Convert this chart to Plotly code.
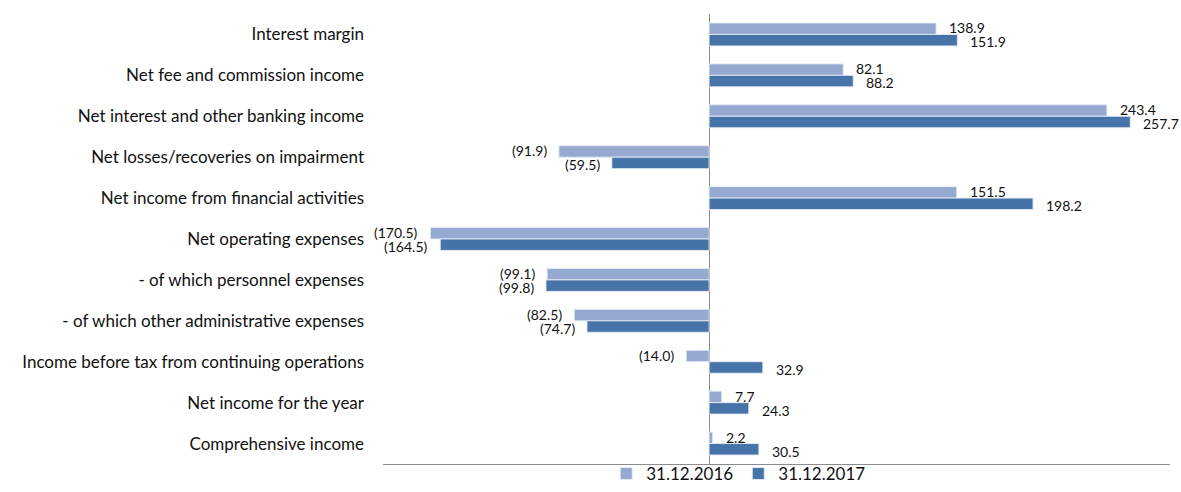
import plotly.graph_objects as go

categories = [
    "Interest margin",
    "Net fee and commission income",
    "Net interest and other banking income",
    "Net losses/recoveries on impairment",
    "Net income from financial activities",
    "Net operating expenses",
    "- of which personnel expenses",
    "- of which other administrative expenses",
    "Income before tax from continuing operations",
    "Net income for the year",
    "Comprehensive income",
]
values_2016 = [138.9, 82.1, 243.4, -91.9, 151.5, -170.5, -99.1, -82.5, -14.0, 7.7, 2.2]
values_2017 = [151.9, 88.2, 257.7, -59.5, 198.2, -164.5, -99.8, -74.7, 32.9, 24.3, 30.5]
series_names = ["31.12.2016", "31.12.2017"]

LIGHT = "#95A9D1"
DARK = "#4673A8"
FONT = "Lato"


def fmt(v):
    return f"({abs(v):.1f})" if v < 0 else f"{v:.1f}"


fig = go.Figure()
for name, vals, col in [(series_names[0], values_2016, LIGHT), (series_names[1], values_2017, DARK)]:
    fig.add_trace(go.Bar(
        y=categories, x=vals, name=name, orientation="h",
        marker=dict(color=col, line=dict(color="rgba(230,236,246,0.9)", width=1)),
        hoverinfo="x+y",
    ))

annotations = []
for vals, ys in [(values_2016, 6.5), (values_2017, -7.5)]:
    for c, v in zip(categories, vals):
        annotations.append(dict(
            x=v, y=c, xref="x", yref="y", text=fmt(v), showarrow=False,
            xanchor="left" if v >= 0 else "right",
            xshift=11 if v >= 0 else -10, yshift=ys,
            font=dict(family=FONT, size=14, color="#111"),
        ))

fig.update_layout(
    width=1181, height=492,
    margin=dict(l=383, r=11, t=14, b=28, autoexpand=False),
    paper_bgcolor="white", plot_bgcolor="white",
    barmode="group", bargap=0.44, bargroupgap=0,
    font=dict(family=FONT, size=17, color="#111"),
    showlegend=True,
    legend=dict(orientation="h", x=0.452, xanchor="center", xref="paper",
                y=0.0, yanchor="bottom", yref="container",
                bgcolor="rgba(0,0,0,0)",
                font=dict(family=FONT, size=17, color="#111"), traceorder="normal",
                itemwidth=30),
    annotations=annotations,
)
fig.update_xaxes(range=[-199.5, 282], showgrid=False, showticklabels=False, ticks="",
                 zeroline=True, zerolinecolor="#8c8c8c", zerolinewidth=1,
                 showline=True, linecolor="#8c8c8c", linewidth=1, mirror=False)
fig.update_yaxes(autorange="reversed", showgrid=False, showline=False, ticks="",
                 ticklabelstandoff=18, tickfont=dict(family=FONT, size=17, color="#111"))

fig.write_html("out.html")
